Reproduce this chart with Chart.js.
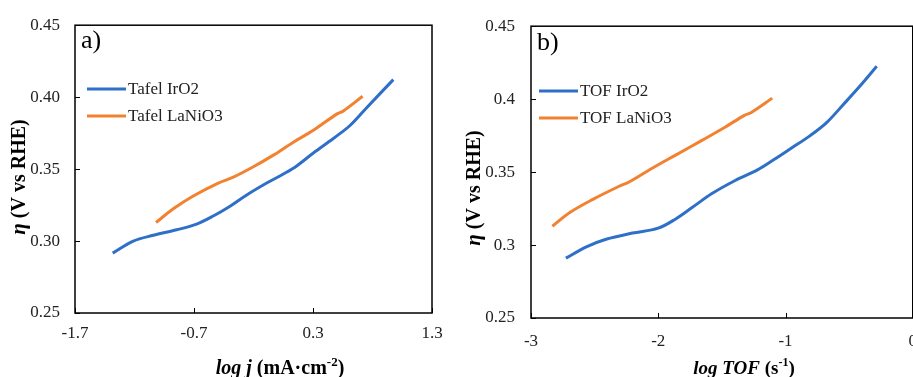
<!DOCTYPE html>
<html>
<head>
<meta charset="utf-8">
<script src="https://cdn.jsdelivr.net/npm/chart.js@4.4.1/dist/chart.umd.min.js"></script>
<style>
  html, body { margin: 0; padding: 0; background: #fff; overflow: hidden; }
  body { width: 913px; height: 377px; position: relative; }
  canvas { position: absolute; top: 0; }
  #tafel { left: 0; }
  #tof { left: 460px; }
</style>
</head>
<body>
<canvas id="tafel" width="460" height="377"></canvas>
<canvas id="tof" width="470" height="377"></canvas>
<script>
// panel a) Tafel: log j vs overpotential
const tafelIrO2X = [-1.383, -1.21, -1.042, -0.846, -0.678, -0.538, -0.397, -0.257, -0.089, 0.051, 0.163, 0.303, 0.471, 0.611, 0.751, 0.975];
const tafelIrO2Y = [0.2916, 0.300, 0.304, 0.3078, 0.3118, 0.3174, 0.3242, 0.332, 0.3403, 0.3466, 0.3522, 0.3612, 0.3713, 0.3803, 0.3927, 0.4122];
const tafelLaNiO3X = [-1.019, -0.874, -0.706, -0.496, -0.369, -0.201, -0.033, 0.135, 0.303, 0.499, 0.555, 0.717];
const tafelLaNiO3Y = [0.3129, 0.3224, 0.3313, 0.3403, 0.3444, 0.3516, 0.3597, 0.3687, 0.377, 0.3882, 0.3904, 0.4006];
const tafelXTicks = [-1.7, -0.7, 0.3, 1.3];
const tafelYTicks = [0.25, 0.30, 0.35, 0.40, 0.45];

// panel b) TOF
const tofIrO2X = [-2.726, -2.565, -2.41, -2.203, -2.0, -1.863, -1.734, -1.578, -1.399, -1.22, -1.09, -0.961, -0.806, -0.677, -0.547, -0.418, -0.283];
const tofIrO2Y = [0.291, 0.2988, 0.304, 0.3082, 0.3116, 0.3179, 0.3257, 0.3353, 0.3441, 0.3515, 0.3586, 0.366, 0.375, 0.3839, 0.3962, 0.4086, 0.4225];
const tofLaNiO3X = [-2.832, -2.695, -2.514, -2.307, -2.229, -2.048, -1.867, -1.66, -1.479, -1.323, -1.272, -1.104];
const tofLaNiO3Y = [0.3129, 0.3223, 0.3313, 0.3403, 0.3432, 0.3526, 0.3615, 0.3716, 0.3806, 0.3889, 0.3907, 0.4007];
const tofXTicks = [-3, -2, -1, 0];
const tofYTicks = [0.25, 0.3, 0.35, 0.4, 0.45];

const BLUE = '#2e6fc8';
const ORANGE = '#f28130';
const SERIF = '"Liberation Serif", "Times New Roman", serif';

function pts(xs, ys) { return xs.map((x, i) => ({ x: x, y: ys[i] })); }

// draws a run of text pieces with their own fonts, centred on (cx, cy)
function richText(ctx, parts, cx, cy, rot) {
  ctx.save();
  ctx.translate(cx, cy);
  if (rot) ctx.rotate(rot);
  ctx.textBaseline = 'middle';
  ctx.textAlign = 'left';
  let w = 0;
  parts.forEach(p => { ctx.font = p.font; w += ctx.measureText(p.t).width; });
  let x = -w / 2;
  parts.forEach(p => {
    ctx.font = p.font;
    ctx.fillText(p.t, x, p.dy || 0);
    x += ctx.measureText(p.t).width;
  });
  ctx.restore();
}

const frame = {
  id: 'frame',
  afterDraw(chart, args, o) {
    const ctx = chart.ctx, a = chart.chartArea;
    const xs = chart.scales.x, ys = chart.scales.y;
    ctx.save();
    ctx.strokeStyle = '#000';
    ctx.lineWidth = 1.5;
    ctx.strokeRect(a.left, a.top, a.right - a.left, a.bottom - a.top);
    ctx.lineWidth = 1;
    ctx.beginPath();
    xs.ticks.forEach(t => {
      const px = Math.round(xs.getPixelForValue(t.value)) + 0.5;
      ctx.moveTo(px, a.bottom); ctx.lineTo(px, a.bottom - 5);
    });
    ys.ticks.forEach(t => {
      const py = Math.round(ys.getPixelForValue(t.value)) + 0.5;
      ctx.moveTo(a.left, py); ctx.lineTo(a.left + 5, py);
    });
    ctx.stroke();

    // legend inside the plot
    ctx.font = '17px ' + SERIF;
    ctx.textBaseline = 'middle';
    ctx.textAlign = 'left';
    chart.data.datasets.forEach((ds, i) => {
      const y = o.legendY + i * 27;
      ctx.strokeStyle = ds.borderColor;
      ctx.lineWidth = 3;
      ctx.beginPath();
      ctx.moveTo(o.legendX, y); ctx.lineTo(o.legendX + 39, y);
      ctx.stroke();
      ctx.fillStyle = '#222';
      ctx.fillText(ds.label, o.legendX + 41, y + 1);
    });

    // panel letter
    ctx.fillStyle = '#000';
    ctx.font = '26px ' + SERIF;
    ctx.fillText(o.letter, o.letterX, o.letterY);

    // axis titles
    ctx.fillStyle = '#000';
    richText(ctx, o.xTitle, o.xTitleX, o.xTitleY, 0);
    richText(ctx, [
      { t: 'η', font: 'italic bold 21px ' + SERIF },
      { t: ' (V vs RHE)', font: 'bold 20px ' + SERIF }
    ], o.yTitleX, o.yTitleY, -Math.PI / 2);
    ctx.restore();
  }
};

function makeChart(id, sets, xMin, xMax, xTicks, yTicks, fmtY, geo, extra) {
  const tickFont = { family: SERIF, size: 17 };
  new Chart(document.getElementById(id), {
    type: 'line',
    data: {
      datasets: sets.map(s => ({
        label: s.label,
        data: s.data,
        borderColor: s.color,
        backgroundColor: s.color,
        borderWidth: 3,
        pointRadius: 0,
        tension: 0.35,
        fill: false
      }))
    },
    options: {
      responsive: false,
      animation: false,
      layout: { padding: { left: 0, right: geo.right, top: geo.top, bottom: 0 } },
      plugins: { legend: { display: false }, tooltip: { enabled: false }, frame: extra },
      scales: {
        x: {
          type: 'linear', min: xMin, max: xMax,
          afterBuildTicks: s => { s.ticks = xTicks.map(v => ({ value: v })); },
          afterFit: s => { s.height = geo.xH; },
          ticks: { font: tickFont, color: '#222', padding: geo.xPad, maxRotation: 0,
                   callback: v => String(v) },
          grid: { display: false, drawTicks: false },
          border: { display: false }
        },
        y: {
          type: 'linear', min: 0.25, max: 0.45,
          afterBuildTicks: s => { s.ticks = yTicks.map(v => ({ value: v })); },
          afterFit: s => { s.width = geo.yW; },
          ticks: { font: tickFont, color: '#222', padding: geo.yPad, callback: fmtY },
          grid: { display: false, drawTicks: false },
          border: { display: false }
        }
      }
    },
    plugins: [frame]
  });
}

makeChart('tafel', [
  { label: 'Tafel IrO2', data: pts(tafelIrO2X, tafelIrO2Y), color: BLUE },
  { label: 'Tafel LaNiO3', data: pts(tafelLaNiO3X, tafelLaNiO3Y), color: ORANGE }
], -1.7, 1.3, tafelXTicks, tafelYTicks, v => v.toFixed(2),
  { right: 28, top: 17, xH: 64, yW: 75, xPad: 10, yPad: 15 },
  { legendX: 87, legendY: 89, letter: 'a)', letterX: 81, letterY: 41,
    xTitle: [
      { t: 'log j', font: 'italic bold 20px ' + SERIF },
      { t: ' (mA·cm', font: 'bold 20px ' + SERIF },
      { t: '-2', font: 'bold 13px ' + SERIF, dy: -6 },
      { t: ')', font: 'bold 20px ' + SERIF }
    ],
    xTitleX: 280, xTitleY: 369, yTitleX: 20, yTitleY: 177 });

makeChart('tof', [
  { label: 'TOF IrO2', data: pts(tofIrO2X, tofIrO2Y), color: BLUE },
  { label: 'TOF LaNiO3', data: pts(tofLaNiO3X, tofLaNiO3Y), color: ORANGE }
], -3, 0, tofXTicks, tofYTicks, v => String(v),
  { right: 13, top: 20, xH: 59, yW: 71, xPad: 13, yPad: 16 },
  { legendX: 79, legendY: 91, letter: 'b)', letterX: 77, letterY: 43,
    xTitle: [
      { t: 'log TOF', font: 'italic bold 19px ' + SERIF },
      { t: ' (s', font: 'bold 19px ' + SERIF },
      { t: '-1', font: 'bold 12px ' + SERIF, dy: -6 },
      { t: ')', font: 'bold 19px ' + SERIF }
    ],
    xTitleX: 284, xTitleY: 369, yTitleX: 15, yTitleY: 188 });
</script>
</body>
</html>
